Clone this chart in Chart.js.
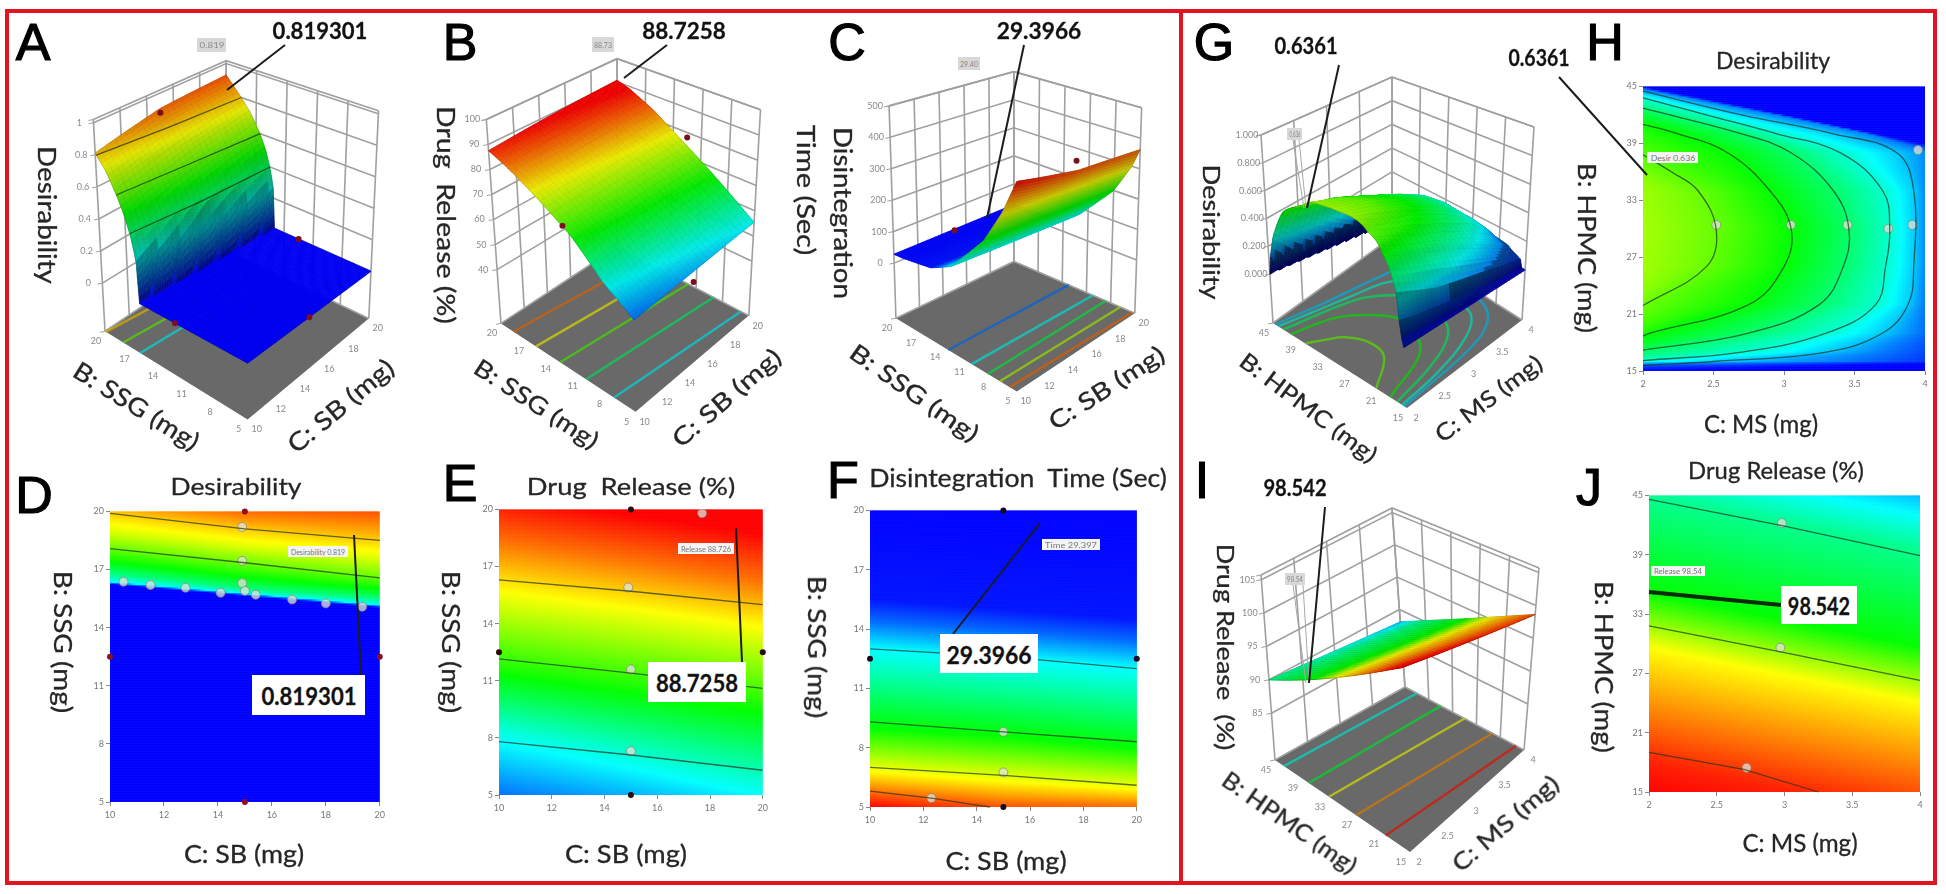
<!DOCTYPE html>
<html>
<head>
<meta charset="utf-8">
<script src="https://cdn.jsdelivr.net/npm/chart.js@4"></script>
<style>
  html, body { margin: 0; padding: 0; background: #fff; }
  #page { position: relative; width: 1946px; height: 894px; overflow: hidden; background: #fff; filter: blur(0.7px); }
  #page canvas { position: absolute; }
  .txt { position: absolute; white-space: pre; font-family: Lato, sans-serif; color: #262626; transform-origin: center; -webkit-text-stroke: 0.3px #262626; }
  .frame { position: absolute; border: 4px solid #e3141f; box-sizing: border-box; }
</style>
</head>
<body>
<div id="page"></div>
<script>
// ---- response data ----
// each surface: z level at a position along B (or C for MS/HPMC), for a few slices
const desirLevels = [0, 0, 0.1, 0.25, 0.38, 0.5, 0.6, 0.72, 0.8, 0.92, 1];
const desirSlices = [10, 15, 20];
const desirRows = [
  [-5, 16.25, 16.3, 16.35, 16.8, 17.4, 18.08, 19, 19.9, 21, 22],
  [-5, 15.65, 15.7, 15.75, 16, 16.6, 17.3, 18.2, 19.05, 20.2, 21.2],
  [-5, 15.05, 15.1, 15.15, 15.5, 16, 16.6, 17.6, 18.5, 20, 21]
];

const releaseLevels = [40, 49, 56.7, 67.5, 78, 84, 89, 92];
const releaseSlices = [10, 15, 20];
const releaseRows = [
  [-2, 5, 8.4, 11.6, 15.8, 18.3, 20.7, 22.5],
  [-3, 3.8, 7, 10.7, 14.9, 17.3, 19.7, 21.5],
  [-4, 2.5, 5.5, 9.7, 13.9, 16.2, 18.7, 21]
];

const timeLevels = [600, 405, 300, 200, 80, 45, 30, 25];
const timeSlices = [10, 15, 20];
const timeRows = [
  [2, 5, 6.8, 9, 13, 15.5, 19, 22],
  [2, 4.4, 6.3, 8.6, 12.5, 15, 18.5, 22],
  [1.5, 4.4, 5.9, 8, 12, 14.5, 18, 22]
];
const timeColorZ = [25, 45, 60, 80, 200, 300, 405];
const timeColorT = [0, 0.02, 0.1, 0.25, 0.5, 0.75, 1];

// second formulation: slices are HPMC, position is MS
const desir2Levels = [0.66, 0.6, 0.5, 0.4, 0.3, 0.2, 0.12, 0.02, 0];
const desir2Slices = [15, 16, 17, 19, 22, 26, 30, 34, 38, 40, 42, 44, 45];
const desir2Rows = [
  [-3, -2.8, -2.6, -2.4, -2.2, -2, -1.5, 1.5, 2.0],
  [0.5, 0.9, 1.2, 1.5, 1.9, 2.5, 3.4, 4.3, 4.6],
  [0.9, 1.3, 1.6, 1.95, 2.7, 3.3, 3.7, 4.3, 4.6],
  [1.5, 1.75, 2.05, 2.75, 3.3, 3.7, 3.95, 4.3, 4.6],
  [1.85, 2.0, 2.75, 3.25, 3.65, 3.88, 4.0, 4.4, 4.7],
  [1.98, 2.45, 3.0, 3.42, 3.72, 3.92, 4.02, 4.4, 4.7],
  [2.0, 2.52, 3.05, 3.46, 3.75, 3.92, 4.02, 4.4, 4.7],
  [1.95, 2.39, 2.9, 3.35, 3.7, 3.92, 4.02, 4.4, 4.7],
  [1.6, 1.8, 2.6, 3.05, 3.4, 3.8, 4.05, 4.25, 4.3],
  [1.2, 1.5, 2.25, 2.7, 2.95, 3.35, 3.6, 3.63, 3.65],
  [0.9, 1.2, 1.8, 2.15, 2.45, 2.7, 2.95, 2.98, 3.0],
  [0.5, 0.8, 1.2, 1.6, 1.9, 2.1, 2.25, 2.3, 2.35],
  [0.2, 0.5, 0.9, 1.2, 1.5, 1.7, 1.9, 1.95, 2.0]
];

const release2Levels = [103, 100.5, 99.5, 95.4, 93.4, 90, 88, 85];
const release2Slices = [2, 3, 4];
const release2Rows = [
  [7.9, 15, 18, 29.6, 35.2, 45, 50.7, 59],
  [5.1, 12.2, 15.2, 26.8, 32.4, 42.2, 47.9, 56.2],
  [2.4, 9.5, 12.5, 24.1, 29.7, 39.5, 45.2, 53.5]
];
const release2ColorZ = [85, 88, 90, 93.4, 95.4, 99.5, 100.5];
const release2ColorT = [0, 0.18, 0.36, 0.5, 0.75, 0.97, 1];

// contour lines, as [C, B] pairs, and the level each one sits on
const desirContours = [
  [[10, 19.9], [15, 19.1], [20, 18.5]],
  [[10, 18.08], [15, 17.35], [20, 16.57]]
];
const desirContourLevels = [0.8, 0.6];
const desirEdge = [[10, 16.3], [15, 15.7], [20, 15.08]];
const desirLine04 = [[10, 16.85], [15, 16.05], [20, 15.55]];
const desirMarkers = [[14.9, 19.2], [14.9, 17.45], [10.5, 16.37], [11.5, 16.2], [12.8, 16.06], [14.1, 15.8], [14.9, 16.3], [15, 15.9], [15.4, 15.7], [16.75, 15.45], [18, 15.25], [19.35, 15.08]];

const releaseContours = [
  [[10, 16.3], [15, 15.7], [20, 15]],
  [[10, 12.15], [15, 11.4], [20, 10.6]],
  [[10, 7.8], [15, 7.1], [20, 6.3]]
];
const releaseMarkers = [[17.7, 19.8], [14.9, 15.9], [15, 11.6], [15, 7.3]];
const releaseFloorLines = [
  [[10, 18.6], [20, 17.1]], [[10, 16.1], [20, 14.6]], [[10, 13.4], [20, 11.9]], [[10, 10.5], [20, 9]], [[10, 7.4], [20, 5.9]]
];
const releaseFloorLevels = [84, 78, 70, 62, 55];

const timeContours = [
  [[10, 13], [15, 12.6], [20, 12]],
  [[10, 9.3], [15, 8.8], [20, 8.3]],
  [[10, 7], [15, 6.6], [20, 6.1]],
  [[10, 5.8], [12.3, 5.45], [14, 5.1], [14.5, 5]]
];
const timeMarkers = [[15, 8.8], [15, 6.75], [12.3, 5.45]];
const timeFloorLines = [
  [[10, 13.5], [20, 13.2]], [[10, 10.6], [20, 10.2]], [[10, 8.6], [20, 8.6]], [[10, 7.1], [20, 6.8]], [[10, 5.9], [20, 5.3]]
];
const timeFloorLevels = [62, 85, 170, 270, 360];

const desir2Contours = [
  [[2, 37.8], [2.2, 36], [2.39, 34], [2.52, 29.8], [2.45, 26], [2, 21.9]],
  [[2, 41], [2.25, 40], [2.6, 38], [2.9, 34], [3.05, 30], [3, 26], [2.75, 22], [2.05, 19], [2, 18.7]],
  [[2, 42.7], [2.7, 40], [3.05, 38], [3.35, 34], [3.46, 30], [3.42, 26], [3.25, 22], [2.75, 19], [2, 17.2]],
  [[2, 43.8], [2.45, 42], [2.95, 40], [3.4, 38], [3.7, 34], [3.75, 30], [3.72, 26], [3.65, 22], [3.3, 19], [2.7, 17], [2, 16.1]],
  [[2, 44.5], [2.7, 42], [3.35, 40], [3.8, 38], [3.92, 34], [3.92, 26], [3.88, 22], [3.7, 19], [3.3, 17], [2.5, 16], [2, 15.6]]
];
const desir2ContourLevels = [0.6, 0.5, 0.4, 0.3, 0.2];
const desir2Markers = [[2.52, 30.4], [3.05, 30.4], [3.45, 30.4], [3.74, 30], [3.91, 30.4], [3.95, 38.3]];

const release2Contours = [
  [[2, 44.6], [3, 41.9], [4, 38.9]],
  [[2, 31.8], [3, 29.1], [4, 26.3]],
  [[2, 19], [2.7, 17.3], [3.25, 15]]
];
const release2Markers = [[2.98, 42.2], [2.97, 29.6], [2.72, 17.45]];
const release2FloorLines = [
  [[2, 43], [4, 42]], [[2, 37.5], [4, 36]], [[2, 33], [4, 30]], [[2, 27], [4, 23]], [[2, 20.4], [4, 17]]
];
const release2FloorLevels = [89, 92.3, 95.3, 97.5, 99.8];

// design points shown on the 3D panels, as [B, C, z]
const desirPoints3d = [[20, 15, 0.87], [12.5, 20, 0], [5, 15, 0], [12.5, 10, 0]];
const releasePoints3d = [[12.5, 10, 70], [12.5, 20, 78], [5, 15, 48]];
const timePoints3d = [[12.5, 20, 257], [12.5, 10, 193]];

// design points on the edges of the flat plots, as [C, B]
const edgePoints = [[15, 20], [10, 12.5], [20, 12.5], [15, 5]];

// ---- tick labels ----
const sbTicks = [10, 12, 14, 16, 18, 20];
const ssgTicks = [5, 8, 11, 14, 17, 20];
const msTicks = [2, 2.5, 3, 3.5, 4];
const hpmcTicks = [15, 21, 27, 33, 39, 45];
const desirZTicks = [0, 0.2, 0.4, 0.6, 0.8, 1];
const releaseZTicks = [40, 50, 60, 70, 80, 90, 100];
const timeZTicks = [0, 100, 200, 300, 400, 500];
const desir2ZTicks = [0, 0.2, 0.4, 0.6, 0.8, 1];
const release2ZTicks = [85, 90, 95, 100, 105];

// ---- page text: [text, x, y, size, angle, width] ----
const panelLetters = [["A", 33, 42], ["B", 460, 42], ["C", 847, 42], ["D", 34, 495], ["E", 460, 483], ["F", 843, 480], ["G", 1214, 42], ["H", 1605, 42], ["I", 1202, 480], ["J", 1589, 487]];
const titleTexts = [
  ["Desirability", 236, 485, 24, 0, 131], ["Drug  Release (%)", 631, 485, 24, 0, 208], ["Disintegration  Time (Sec)", 1018, 477, 25, 0, 298],
  ["Desirability", 1773, 60, 23, 0, 114], ["Drug Release (%)", 1776, 470, 23, 0, 176],
  ["C: SB (mg)", 244, 853, 25, 0, 120], ["C: SB (mg)", 626, 853, 25, 0, 122], ["C: SB (mg)", 1006, 860, 25, 0, 121],
  ["C: MS (mg)", 1761, 423, 25, 0, 114], ["C: MS (mg)", 1800, 842, 25, 0, 115],
  ["B: SSG (mg)", 64, 642, 25, 90, 142], ["B: SSG (mg)", 452, 642, 25, 90, 142], ["B: SSG (mg)", 818, 647, 25, 90, 142],
  ["B: HPMC (mg)", 1588, 248, 25, 90, 170], ["B: HPMC (mg)", 1605, 667, 25, 90, 172],
  ["Desirability", 48, 215, 25, 90, 138], ["Drug  Release (%)", 447, 215, 25, 90, 218], ["Disintegration", 844, 213, 25, 90, 172], ["Time (Sec)", 807, 190, 25, 90, 130],
  ["Desirability", 1212, 232, 23, 90, 135], ["Drug Release  (%)", 1226, 647, 23, 90, 207],
  ["B: SSG (mg)", 137, 405, 25, 32, 143], ["C: SB (mg)", 340, 405, 25, -40, 130],
  ["B: SSG (mg)", 537, 403, 24, 33, 143], ["C: SB (mg)", 726, 397, 24, -41, 136],
  ["B: SSG (mg)", 915, 392, 24, 35, 151], ["C: SB (mg)", 1106, 387, 24, -33, 133],
  ["B: HPMC (mg)", 1309, 407, 23, 37, 165], ["C: MS (mg)", 1488, 398, 23, -37, 128],
  ["B: HPMC (mg)", 1290, 822, 23, 35, 158], ["C: MS (mg)", 1505, 823, 23, -41, 133]
];
const calloutTexts = [["0.819301", 320, 30, 95], ["88.7258", 684, 30, 84], ["29.3966", 1039, 30, 85], ["0.6361", 1306, 45, 63], ["0.6361", 1539, 57, 61], ["98.542", 1295, 487, 63]];
const calloutBoxes = [["0.819301", 252, 675, 113, 40, 95], ["88.7258", 648, 662, 98, 40, 82], ["29.3966", 940, 634, 98, 39, 85], ["98.542", 1781, 586, 76, 38, 62]];
const smallFlags = [["Desirability 0.819", 288, 546, 60, 11], ["Release 88.726", 678, 543, 56, 11], ["Time 29.397", 1042, 539, 58, 11], ["Desir 0.636", 1647, 152, 51, 11], ["Release 98.54", 1651, 566, 54, 10]];
const greyFlags = [["0.819", 197, 38, 29, 14], ["88.73", 592, 37, 22, 15], ["29.40", 958, 57, 22, 13], ["0.636", 1287, 128, 15, 12], ["98.54", 1285, 573, 20, 12]];
const calloutLines = [
  [[227, 90], [285, 45]], [[624, 78], [667, 45]], [[987, 218], [1024, 45]], [[1307, 208], [1339, 65]],
  [[1559, 77], [1647, 175]], [[1309, 683], [1325, 507]], [[354, 535], [361, 675]], [[736, 528], [742, 662]], [[1040, 523], [953, 634]]
];
const thickLines = [[[1649, 592], [1781, 605]]];
const thinLines = [[[1293, 140], [1304, 208]], [[1299, 140], [1306, 208]], [[1293, 585], [1306, 683]], [[1303, 585], [1309, 683]]];

// ---- helpers ----
const page = document.getElementById("page");

function addText(str, x, y, size, angle, weight, family, width) {
  const d = document.createElement("div");
  d.className = "txt";
  d.textContent = str;
  d.style.left = x + "px";
  d.style.top = y + "px";
  d.style.fontSize = size + "px";
  if (weight) d.style.fontWeight = weight;
  if (family) d.style.fontFamily = family;
  page.appendChild(d);
  const sx = width ? width / d.offsetWidth : 1;
  d.style.transform = "translate(-50%,-50%) rotate(" + (angle || 0) + "deg) scaleX(" + sx + ")";
  return d;
}

function addBox(x, y, w, h, bg) {
  const d = document.createElement("div");
  d.style.cssText = "position:absolute;left:" + x + "px;top:" + y + "px;width:" + w + "px;height:" + h + "px;background:" + bg + ";";
  page.appendChild(d);
}

function addCanvas(x, y, w, h) {
  const c = document.createElement("canvas");
  c.width = w;
  c.height = h;
  c.style.left = x + "px";
  c.style.top = y + "px";
  c.style.width = w + "px";
  c.style.height = h + "px";
  page.appendChild(c);
  return c;
}

// z at (slice, pos): slide each level curve to this slice, then read along pos
function surfaceValue(s, slice, pos) {
  const sl = s.slices;
  let i = 0;
  while (i < sl.length - 2 && slice > sl[i + 1]) i++;
  const f = Math.max(0, Math.min(1, (slice - sl[i]) / (sl[i + 1] - sl[i])));
  const a = s.rows[i], b = s.rows[i + 1], L = s.levels;
  let prev = a[0] + (b[0] - a[0]) * f;
  if (pos <= prev) return L[0];
  for (let k = 1; k < L.length; k++) {
    const p = a[k] + (b[k] - a[k]) * f;
    if (pos <= p) {
      if (p === prev) return L[k];
      return L[k - 1] + (L[k] - L[k - 1]) * (pos - prev) / (p - prev);
    }
    prev = p;
  }
  return L[L.length - 1];
}

// B-first surfaces use C as slice, the HPMC/MS desirability uses B as slice
function zAt(s, b, c) {
  return s.sliceIsB ? surfaceValue(s, b, c) : surfaceValue(s, c, b);
}

function colorPos(s, z) {
  if (!s.colorZ) return (z - s.zMin) / (s.zMax - s.zMin);
  const Z = s.colorZ, T = s.colorT;
  if (z <= Z[0]) return T[0];
  for (let i = 1; i < Z.length; i++) {
    if (z <= Z[i]) return T[i - 1] + (T[i] - T[i - 1]) * (z - Z[i - 1]) / (Z[i] - Z[i - 1]);
  }
  return T[T.length - 1];
}

function rainbow(t, shade, alpha) {
  t = Math.max(0, Math.min(1, t));
  let r, g, bl;
  if (t < 0.25) { r = 0; g = t * 4 * 255; bl = 255; }
  else if (t < 0.5) { r = 0; g = 255; bl = (0.5 - t) * 4 * 255; }
  else if (t < 0.75) { r = (t - 0.5) * 4 * 255; g = 255; bl = 0; }
  else { r = 255; g = (1 - t) * 4 * 255; bl = 0; }
  const k = shade || 1;
  return "rgba(" + Math.round(r * k) + "," + Math.round(g * k) + "," + Math.round(bl * k) + "," + (alpha || 1) + ")";
}

const desirSurface = { levels: desirLevels, slices: desirSlices, rows: desirRows, zMin: 0, zMax: 1 };
const releaseSurface = { levels: releaseLevels, slices: releaseSlices, rows: releaseRows, zMin: 44, zMax: 89 };
const timeSurface = { levels: timeLevels, slices: timeSlices, rows: timeRows, zMin: 25, zMax: 405, colorZ: timeColorZ, colorT: timeColorT };
const desir2Surface = { levels: desir2Levels, slices: desir2Slices, rows: desir2Rows, zMin: 0, zMax: 1, sliceIsB: true };
const release2Surface = { levels: release2Levels, slices: release2Slices, rows: release2Rows, zMin: 85, zMax: 100.5, colorZ: release2ColorZ, colorT: release2ColorT };

// ---- flat contour plots ----
const heatPlugin = {
  id: "heat",
  beforeDatasetsDraw(chart) {
    const s = chart.config.options.plugins.heat.surface;
    const xs = chart.scales.x, ys = chart.scales.y, a = chart.chartArea, ctx = chart.ctx;
    for (let px = a.left; px < a.right; px += 2) {
      for (let py = a.top; py < a.bottom; py += 2) {
        const z = zAt(s, ys.getValueForPixel(py + 1), xs.getValueForPixel(px + 1));
        ctx.fillStyle = rainbow(colorPos(s, z));
        ctx.fillRect(px, py, Math.min(2.5, a.right - px), Math.min(2.5, a.bottom - py));
      }
    }
  }
};

function contourChart(cfg) {
  const left = 26, bottom = 26, top = 6, right = 8;
  const cv = addCanvas(cfg.l - left, cfg.t - top, cfg.r - cfg.l + left + right, cfg.b - cfg.t + top + bottom);
  const datasets = [];
  cfg.contours.forEach((pts, i) => {
    datasets.push({
      label: "contour " + i,
      data: pts.map(p => ({ x: p[0], y: p[1] })),
      showLine: true, borderColor: "rgba(30,50,30,0.7)", borderWidth: 1.3, pointRadius: 0, clip: false, tension: cfg.tension || 0
    });
  });
  datasets.push({
    label: "contour labels",
    data: cfg.markers.map(p => ({ x: p[0], y: p[1] })),
    showLine: false, pointRadius: 4.5,
    backgroundColor: "rgba(225,228,215,0.75)", borderColor: "rgba(130,130,130,0.7)", borderWidth: 1
  });
  if (cfg.edges) {
    datasets.push({
      label: "design points",
      data: cfg.edges.map(p => ({ x: p[0], y: p[1] })),
      showLine: false, pointRadius: 3, backgroundColor: cfg.edgeColor, borderWidth: 0, clip: false
    });
  }
  new Chart(cv, {
    type: "scatter",
    data: { datasets },
    options: {
      responsive: false,
      animation: false,
      layout: { padding: { top, right, left: 0, bottom: 0 } },
      plugins: { legend: { display: false }, tooltip: { enabled: false }, heat: { surface: cfg.surface } },
      scales: {
        x: {
          type: "linear", min: cfg.xTicks[0], max: cfg.xTicks[cfg.xTicks.length - 1],
          afterBuildTicks: sc => { sc.ticks = cfg.xTicks.map(v => ({ value: v })); },
          afterFit: sc => { sc.height = bottom; },
          grid: { drawOnChartArea: false, tickLength: 4, color: "#888" }, border: { display: false },
          ticks: { color: "#777", font: { size: 9, family: "Lato" }, maxRotation: 0, autoSkip: false, padding: 4, callback: v => v }
        },
        y: {
          type: "linear", min: cfg.yTicks[0], max: cfg.yTicks[cfg.yTicks.length - 1],
          afterBuildTicks: sc => { sc.ticks = cfg.yTicks.map(v => ({ value: v })); },
          afterFit: sc => { sc.width = left; },
          grid: { drawOnChartArea: false, tickLength: 4, color: "#888" }, border: { display: false },
          ticks: { color: "#777", font: { size: 9, family: "Lato" }, autoSkip: false, padding: 2, callback: v => v }
        }
      }
    },
    plugins: [heatPlugin]
  });
}

// ---- 3D panels: a box with 8 corners on the page, surface goes through its own scales ----
const surfacePlugin = {
  id: "surfaceCells",
  beforeDatasetsDraw(chart) {
    const cfg = chart.config.options.plugins.surfaceCells.cfg;
    const ctx = chart.ctx, xs = chart.scales.x, ys = chart.scales.y;
    const b0 = cfg.bTicks[0], b1 = cfg.bTicks[cfg.bTicks.length - 1], c0 = cfg.cTicks[0], c1 = cfg.cTicks[cfg.cTicks.length - 1];
    ctx.beginPath();
    [[b1, c0], [b0, c0], [b0, c1], [b1, c1]].forEach((q, i) => {
      const p = cfg.project(q[0], q[1], cfg.zFloor);
      if (i) ctx.lineTo(xs.getPixelForValue(p.x), ys.getPixelForValue(p.y));
      else ctx.moveTo(xs.getPixelForValue(p.x), ys.getPixelForValue(p.y));
    });
    ctx.closePath();
    ctx.fillStyle = "#696969";
    ctx.fill();
  },
  afterDatasetDraw(chart, args) {
    if (!chart.data.datasets[args.index].isSurface) return;
    const cfg = chart.config.options.plugins.surfaceCells.cfg;
    const s = cfg.surface, coarse = 26, k = 3, N = coarse * k;
    const ctx = chart.ctx, xs = chart.scales.x, ys = chart.scales.y;
    const bMin = cfg.bTicks[0], bMax = cfg.bTicks[cfg.bTicks.length - 1];
    const cMin = cfg.cTicks[0], cMax = cfg.cTicks[cfg.cTicks.length - 1];
    const range = s.zMax - s.zMin;
    const grid = [];
    for (let i = 0; i <= N; i++) {
      grid.push([]);
      const b = bMin + (bMax - bMin) * i / N;
      for (let j = 0; j <= N; j++) {
        const c = cMin + (cMax - cMin) * j / N;
        const z = zAt(s, b, c);
        const p = cfg.project(b, c, z);
        grid[i].push({ x: xs.getPixelForValue(p.x), y: ys.getPixelForValue(p.y), z });
      }
    }
    const lineCol = cfg.cellLine || "rgba(0,0,0,0.24)";
    const seg = (a, b) => {
      ctx.beginPath(); ctx.moveTo(a.x, a.y); ctx.lineTo(b.x, b.y);
      ctx.strokeStyle = lineCol; ctx.lineWidth = 0.7; ctx.stroke();
    };
    const quad = (a, b, c, d, col) => {
      ctx.beginPath();
      ctx.moveTo(a.x, a.y); ctx.lineTo(b.x, b.y); ctx.lineTo(c.x, c.y); ctx.lineTo(d.x, d.y);
      ctx.closePath();
      ctx.fillStyle = col; ctx.fill();
      ctx.strokeStyle = col; ctx.lineWidth = 0.7; ctx.stroke();
    };
    const mid = (a, b, f) => ({ x: a.x + (b.x - a.x) * f, y: a.y + (b.y - a.y) * f });
    // paint from the back corner toward the viewer
    for (let i = N - 1; i >= 0; i--) {
      for (let j = N - 1; j >= 0; j--) {
        const q0 = grid[i][j], q1 = grid[i + 1][j], q2 = grid[i + 1][j + 1], q3 = grid[i][j + 1];
        const zs = [q0.z, q1.z, q2.z, q3.z];
        const span = Math.max(...zs) - Math.min(...zs);
        let shade = 0.96 - Math.min(0.42, (span * k / range) * 1.2);
        // underside of the surface is a little darker
        const area = (q1.x - q3.x) * (q2.y - q0.y) - (q1.y - q3.y) * (q2.x - q0.x);
        if (area * cfg.topSign < 0) shade *= 0.9;
        const tMid = colorPos(s, (q0.z + q1.z + q2.z + q3.z) / 4);
        if (cfg.lowDark && tMid < 0.13) shade *= 0.65;
        if (span / range > 0.05) {
          const za = (q0.z + q3.z) / 2, zb = (q1.z + q2.z) / 2, m = 6;
          for (let t = 0; t < m; t++) {
            const f0 = t / m, f1 = (t + 1) / m;
            quad(mid(q0, q1, f0), mid(q0, q1, f1), mid(q3, q2, f1), mid(q3, q2, f0),
              rainbow(colorPos(s, za + (zb - za) * (f0 + f1) / 2), shade));
          }
        } else {
          quad(q0, q1, q2, q3, rainbow(tMid, shade));
        }
        if (i % k === 0) seg(q0, q3);
        if (j % k === 0) seg(q0, q1);
        if (i + 1 === N) seg(q1, q2);
        if (j + 1 === N) seg(q3, q2);
      }
    }
  },
  afterDraw(chart) {
    const cfg = chart.config.options.plugins.surfaceCells.cfg;
    const ctx = chart.ctx, xs = chart.scales.x, ys = chart.scales.y;
    const bMax = cfg.bTicks[cfg.bTicks.length - 1], cMin = cfg.cTicks[0], bMin = cfg.bTicks[0];
    ctx.fillStyle = "#8a8a8a";
    ctx.font = "9px Lato";
    ctx.textAlign = "center";
    ctx.textBaseline = "middle";
    const label = (txt, p, dx, dy) => ctx.fillText(txt, xs.getPixelForValue(p.x) + dx, ys.getPixelForValue(p.y) + dy);
    cfg.bTicks.forEach(v => label(v, cfg.project(v, cMin, cfg.zFloor), -9, 10));
    cfg.cTicks.forEach(v => label(v, cfg.project(bMin, v, cfg.zFloor), 9, 10));
    cfg.zTicks.forEach(v => label(cfg.zFmt ? cfg.zFmt(v) : v, cfg.project(bMax, cMin, v), -14, 0));
  }
};

function cubeChart(cfg) {
  const box = cfg.box;
  const cv = addCanvas(box[0], box[1], box[2], box[3]);
  const c0 = cfg.cTicks[0], c1 = cfg.cTicks[cfg.cTicks.length - 1];
  const b0 = cfg.bTicks[0], b1 = cfg.bTicks[cfg.bTicks.length - 1];
  // corners: L = (bMax,cMin), F = (bMin,cMin), R = (bMin,cMax), K = (bMax,cMax)
  cfg.project = (b, c, z) => {
    const u = (c - c0) / (c1 - c0), v = (b - b0) / (b1 - b0), w = (z - cfg.zFloor) / (cfg.zTop - cfg.zFloor);
    const mix = (L, F, R, K) => {
      const near = F + (R - F) * u, far = L + (K - L) * u;
      return near + (far - near) * v;
    };
    const fl = cfg.floor, tp = cfg.top;
    const xF = mix(fl.L[0], fl.F[0], fl.R[0], fl.K[0]), yF = mix(fl.L[1], fl.F[1], fl.R[1], fl.K[1]);
    const xT = mix(tp.L[0], tp.F[0], tp.R[0], tp.K[0]), yT = mix(tp.L[1], tp.F[1], tp.R[1], tp.K[1]);
    return { x: xF + (xT - xF) * w, y: yF + (yT - yF) * w };
  };
  // sign of a cell seen from above, from the floor itself
  {
    const a = cfg.floor;
    cfg.topSign = Math.sign((a.L[0] - a.R[0]) * (a.K[1] - a.F[1]) - (a.L[1] - a.R[1]) * (a.K[0] - a.F[0]));
  }
  const P = cfg.project;
  const list = [];
  const wall = { showLine: true, borderColor: "#a0a0a0", borderWidth: 1.6, pointRadius: 0, clip: false };
  const wallTicks = [cfg.zFloor].concat(cfg.zTicks, cfg.zTop);
  wallTicks.forEach(z => {
    list.push(Object.assign({}, wall, { label: "wall z", data: [P(b1, c0, z), P(b1, c1, z), P(b0, c1, z)] }));
    list.push(Object.assign({}, wall, { label: "z tick", borderWidth: 1, data: [P(b1, c0, z), { x: P(b1, c0, z).x - 5, y: P(b1, c0, z).y + 1 }] }));
  });
  cfg.cTicks.forEach(c => list.push(Object.assign({}, wall, { label: "wall c", data: [P(b1, c, cfg.zFloor), P(b1, c, cfg.zTop)] })));
  cfg.bTicks.forEach(b => list.push(Object.assign({}, wall, { label: "wall b", data: [P(b, c1, cfg.zFloor), P(b, c1, cfg.zTop)] })));
  cfg.floorLines.forEach((f, i) => {
    list.push({
      label: "floor contour " + i,
      data: f.pts.map(p => P(p[1], p[0], cfg.zFloor)),
      showLine: true, borderColor: rainbow(colorPos(cfg.surface, f.z), 0.85, 0.72),
      borderWidth: 2.4, pointRadius: 0, clip: false, tension: cfg.tension || 0
    });
  });
  // the surface is painted by the plugin right after this dataset
  list.push({ label: "surface", isSurface: true, showLine: false, pointRadius: 0, data: [P(b1, c0, cfg.zFloor), P(b0, c1, cfg.zFloor)], clip: false });
  (cfg.surfaceLines || []).forEach((f, i) => {
    list.push({
      label: "surface contour " + i,
      data: f.pts.map(p => P(p[1], p[0], f.z)),
      showLine: true, borderColor: "rgba(10,30,10,0.65)", borderWidth: 1.2, pointRadius: 0, clip: false
    });
  });
  if (cfg.points) {
    list.push({
      label: "design points",
      data: cfg.points.map(p => P(p[0], p[1], p[2])),
      showLine: false, pointRadius: 3, backgroundColor: "#7a0f1e", borderWidth: 0, clip: false
    });
  }
  list.forEach((d, i) => { d.order = list.length - i; });
  new Chart(cv, {
    type: "scatter",
    data: { datasets: list },
    options: {
      responsive: false,
      animation: false,
      layout: { padding: 0 },
      plugins: { legend: { display: false }, tooltip: { enabled: false }, surfaceCells: { cfg } },
      scales: {
        x: { type: "linear", min: box[0], max: box[0] + box[2], display: false },
        y: { type: "linear", min: box[1], max: box[1] + box[3], reverse: true, display: false }
      }
    },
    plugins: [surfacePlugin]
  });
}

function withLevels(lines, levels) {
  return lines.map((pts, i) => ({ pts, z: levels[i] }));
}

// ---- draw everything ----
[[5, 9, 1178, 876], [1179, 9, 758, 876]].forEach(r => {
  const d = document.createElement("div");
  d.className = "frame";
  d.style.left = r[0] + "px"; d.style.top = r[1] + "px"; d.style.width = r[2] + "px"; d.style.height = r[3] + "px";
  page.appendChild(d);
});

cubeChart({
  box: [60, 40, 345, 410], surface: desirSurface, bTicks: ssgTicks, cTicks: sbTicks, zTicks: desirZTicks, zFloor: -0.3, zTop: 1.02,
  floor: { L: [102, 333], F: [248, 423], R: [372, 320], K: [226, 250] },
  top: { L: [90, 117], F: [248, 170], R: [382, 108], K: [226, 57] },
  floorLines: withLevels(desirContours, desirContourLevels).concat([{ pts: desirEdge, z: 0.25 }]),
  surfaceLines: withLevels(desirContours, desirContourLevels).concat([{ pts: desirLine04, z: 0.4 }]),
  points: desirPoints3d
});
cubeChart({
  box: [455, 40, 330, 410], surface: releaseSurface, bTicks: ssgTicks, cTicks: sbTicks, zTicks: releaseZTicks, zFloor: 18.5, zTop: 100,
  floor: { L: [498, 325], F: [636, 415], R: [752, 317], K: [617, 247] },
  top: { L: [483, 117], F: [632, 165], R: [764, 107], K: [617, 55] },
  floorLines: withLevels(releaseFloorLines, releaseFloorLevels),
  points: releasePoints3d
});
cubeChart({
  box: [850, 50, 320, 370], surface: timeSurface, bTicks: ssgTicks, cTicks: sbTicks, zTicks: timeZTicks, zFloor: -175, zTop: 500, cellLine: "rgba(0,0,0,0.1)",
  floor: { L: [893, 320], F: [1017, 395], R: [1138, 315], K: [1014, 262] },
  top: { L: [886, 103], F: [1017, 145], R: [1145, 105], K: [1014, 68] },
  floorLines: withLevels(timeFloorLines, timeFloorLevels),
  points: timePoints3d
});
cubeChart({
  box: [1225, 60, 330, 370], surface: desir2Surface, bTicks: hpmcTicks, cTicks: msTicks, zTicks: desir2ZTicks, zFloor: -0.35, zTop: 1, tension: 0.4, lowDark: true,
  zFmt: v => v.toFixed(3),
  floor: { L: [1273, 323], F: [1407, 408], R: [1522, 320], K: [1392, 237] },
  top: { L: [1261, 135], F: [1395, 175], R: [1534, 127], K: [1392, 77] },
  floorLines: withLevels(desir2Contours, desir2ContourLevels)
});
cubeChart({
  box: [1225, 495, 330, 380], surface: release2Surface, bTicks: hpmcTicks, cTicks: msTicks, zTicks: release2ZTicks, zFloor: 78, zTop: 105.7, cellLine: "rgba(0,0,0,0.32)",
  floor: { L: [1275, 760], F: [1410, 852], R: [1524, 750], K: [1405, 687] },
  top: { L: [1261, 575], F: [1400, 625], R: [1539, 568], K: [1392, 508] },
  floorLines: withLevels(release2FloorLines, release2FloorLevels)
});

contourChart({ l: 110, r: 381, t: 510, b: 802, surface: desirSurface, xTicks: sbTicks, yTicks: ssgTicks, contours: desirContours, markers: desirMarkers, edges: edgePoints, edgeColor: "#8c1020" });
contourChart({ l: 499, r: 764, t: 508, b: 795, surface: releaseSurface, xTicks: sbTicks, yTicks: ssgTicks, contours: releaseContours, markers: releaseMarkers, edges: edgePoints, edgeColor: "#2a0a10" });
contourChart({ l: 870, r: 1138, t: 509, b: 807, surface: timeSurface, xTicks: sbTicks, yTicks: ssgTicks, contours: timeContours, markers: timeMarkers, edges: edgePoints, edgeColor: "#1a0a20" });
contourChart({ l: 1643, r: 1925, t: 85, b: 371, surface: desir2Surface, xTicks: msTicks, yTicks: hpmcTicks, contours: desir2Contours, markers: desir2Markers, tension: 0.4 });
contourChart({ l: 1649, r: 1920, t: 494, b: 792, surface: release2Surface, xTicks: msTicks, yTicks: hpmcTicks, contours: release2Contours, markers: release2Markers });

// callout leader lines over all the panels
const overlay = addCanvas(0, 0, 1946, 894);
function leaderSet(lines, color, width) {
  return lines.map(l => ({
    label: "callout", data: l.map(p => ({ x: p[0], y: p[1] })),
    showLine: true, borderColor: color, borderWidth: width, pointRadius: 0
  }));
}
new Chart(overlay, {
  type: "scatter",
  data: { datasets: leaderSet(calloutLines, "#1c1c1c", 2).concat(leaderSet(thickLines, "#0c2a0c", 4), leaderSet(thinLines, "#a8a8a8", 1)) },
  options: {
    responsive: false,
    animation: false,
    layout: { padding: 0 },
    plugins: { legend: { display: false }, tooltip: { enabled: false } },
    scales: {
      x: { type: "linear", min: 0, max: 1946, display: false },
      y: { type: "linear", min: 0, max: 894, reverse: true, display: false }
    }
  }
});

panelLetters.forEach(t => {
  const d = addText(t[0], t[1], t[2], 52, 0, 400, "'Liberation Sans', sans-serif");
  d.style.color = "#000";
  d.style.webkitTextStroke = "1.2px #000";
});
titleTexts.forEach(t => addText(t[0], t[1], t[2], t[3], t[4], 400, null, t[5]));
calloutTexts.forEach(t => {
  const d = addText(t[0], t[1], t[2], 23, 0, 700, null, t[3]);
  d.style.color = "#111";
});
calloutBoxes.forEach(t => {
  addBox(t[1], t[2], t[3], t[4], "#fff");
  addText(t[0], t[1] + t[3] / 2, t[2] + t[4] / 2, 24, 0, 700, null, t[5]).style.color = "#111";
});
smallFlags.forEach(t => {
  addBox(t[1], t[2], t[3], t[4], "#f4f4f4");
  const d = addText(t[0], t[1] + t[3] / 2, t[2] + t[4] / 2, 7, 0, 400, null, t[3] - 6);
  d.style.color = "#777"; d.style.webkitTextStroke = "0";
});
greyFlags.forEach(t => {
  addBox(t[1], t[2], t[3], t[4], "#d8d8d8");
  const d = addText(t[0], t[1] + t[3] / 2, t[2] + t[4] / 2, 7, 0, 400, null, t[3] - 4);
  d.style.color = "#888"; d.style.webkitTextStroke = "0";
});
</script>
</body>
</html>
